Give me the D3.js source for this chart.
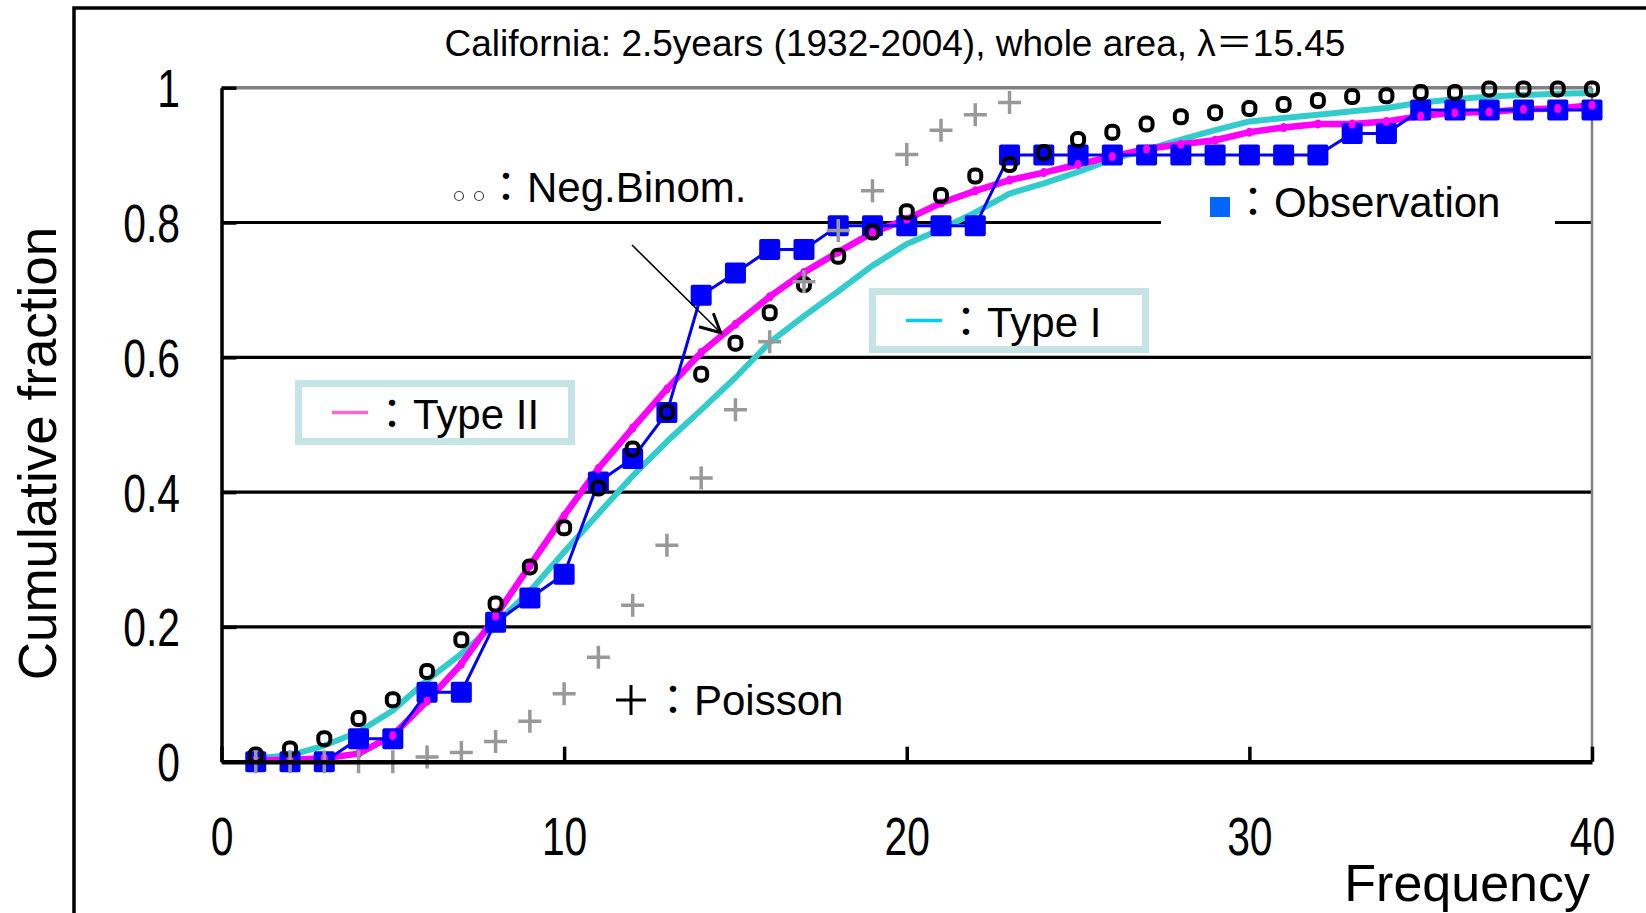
<!DOCTYPE html>
<html>
<head>
<meta charset="utf-8">
<script src="https://cdn.jsdelivr.net/npm/d3@7"></script>
<style>
  html, body { margin: 0; padding: 0; background: #fff; }
  svg { display: block; font-family: "Liberation Sans", Arial, "Noto Sans CJK JP", sans-serif; }
</style>
</head>
<body>
<svg id="chart" width="1646" height="913"></svg>
<script>
// ---- data -------------------------------------------------------------
const frequency = d3.range(1, 41);            // 1 .. 40
const observation = [0, 0, 0, 0.034, 0.034, 0.103, 0.103, 0.207, 0.243, 0.278,
  0.415, 0.45, 0.518, 0.692, 0.725, 0.76, 0.76, 0.795, 0.795, 0.795,
  0.795, 0.795, 0.9, 0.9, 0.9, 0.9, 0.9, 0.9, 0.9, 0.9,
  0.9, 0.9, 0.932, 0.932, 0.967, 0.967, 0.967, 0.967, 0.967, 0.967];
const typeI = [0.005, 0.0095, 0.024, 0.044, 0.076, 0.121, 0.16, 0.205, 0.253, 0.311,
  0.368, 0.424, 0.475, 0.522, 0.57, 0.622, 0.661, 0.698, 0.736, 0.768,
  0.79, 0.815, 0.843, 0.858, 0.875, 0.894, 0.908, 0.923, 0.937, 0.95,
  0.955, 0.96, 0.965, 0.97, 0.978, 0.983, 0.987, 0.989, 0.991, 0.992];
const typeII = [0.002, 0.003, 0.005, 0.012, 0.039, 0.09, 0.145, 0.216, 0.291, 0.365,
  0.435, 0.495, 0.553, 0.607, 0.649, 0.69, 0.726, 0.756, 0.785, 0.805,
  0.829, 0.847, 0.863, 0.874, 0.886, 0.898, 0.909, 0.916, 0.922, 0.934,
  0.941, 0.946, 0.946, 0.95, 0.958, 0.963, 0.964, 0.968, 0.969, 0.974];
const negBinom = [0.01, 0.019, 0.034, 0.064, 0.092, 0.134, 0.181, 0.234, 0.289, 0.347,
  0.406, 0.464, 0.519, 0.575, 0.621, 0.666, 0.708, 0.75, 0.786, 0.816,
  0.84, 0.869, 0.886, 0.904, 0.923, 0.934, 0.946, 0.957, 0.963, 0.969,
  0.975, 0.981, 0.987, 0.988, 0.993, 0.993, 0.998, 0.998, 0.998, 0.998];
const poissonFreq = d3.range(1, 24);          // 1 .. 23
const poisson = [0, 0, 0, 0, 0, 0.007, 0.0135, 0.03, 0.06, 0.101,
  0.155, 0.232, 0.321, 0.421, 0.522, 0.623, 0.712, 0.788, 0.847, 0.901,
  0.937, 0.96, 0.978];

const xTicks = [0, 10, 20, 30, 40];
const yTicks = [0, 0.2, 0.4, 0.6, 0.8, 1];
const yTickLabels = ["0", "0.2", "0.4", "0.6", "0.8", "1"];
const gridValues = [0.2, 0.4, 0.6, 0.8];
const titleText = "California: 2.5years (1932-2004), whole area, λ＝15.45";
const xTitle = "Frequency";
const yTitle = "Cumulative fraction";

// ---- layout -----------------------------------------------------------
const svg = d3.select("#chart");
const x = d3.scaleLinear().domain([0, 40]).range([221.5, 1592]);
const y = d3.scaleLinear().domain([0, 1]).range([761.7, 87.7]);
const narrow = 0.77;   // condensed digits on the axes

svg.append("rect").attr("width", 1646).attr("height", 913).attr("fill", "#fff");

// outer chart frame
svg.append("path").attr("d", "M74,913V8H1646")
  .attr("fill", "none").attr("stroke", "#000").attr("stroke-width", 3.5);

// title
svg.append("text").attr("x", 895).attr("y", 56).attr("text-anchor", "middle")
  .attr("font-size", 37).text(titleText);

// grid lines
svg.append("g").selectAll("line").data(gridValues).join("line")
  .attr("x1", x(0)).attr("x2", x(40))
  .attr("y1", d => y(d)).attr("y2", d => y(d))
  .attr("stroke", "#000").attr("stroke-width", 3.2);

// plot-area border (top and right, grey)
svg.append("line").attr("x1", x(0)).attr("x2", x(40)).attr("y1", y(1)).attr("y2", y(1))
  .attr("stroke", "#808080").attr("stroke-width", 3.5);
svg.append("line").attr("x1", x(40)).attr("x2", x(40)).attr("y1", y(0)).attr("y2", y(1))
  .attr("stroke", "#808080").attr("stroke-width", 2.5);

// ---- legends that sit behind the data --------------------------------
// Observation legend (white background cuts the 0.8 grid line)
const obsLeg = svg.append("g");
obsLeg.append("rect").attr("x", 1161).attr("y", 170).attr("width", 394).attr("height", 72).attr("fill", "#fff");
obsLeg.append("rect").attr("x", 1210).attr("y", 197).attr("width", 20).attr("height", 20).attr("fill", "#0066ff");
obsLeg.append("text").attr("x", 1232).attr("y", 217).attr("font-size", 42).text("：Observation");

// ---- series -----------------------------------------------------------
const line = d3.line().x((d, i) => x(frequency[i])).y(d => y(d));

svg.append("path").datum(typeI).attr("d", line)
  .attr("fill", "none").attr("stroke", "#33cccc").attr("stroke-width", 6).attr("stroke-linejoin", "round");
svg.append("path").datum(typeII).attr("d", line)
  .attr("fill", "none").attr("stroke", "#ff00ff").attr("stroke-width", 6.5).attr("stroke-linejoin", "round");
svg.append("path").datum(observation).attr("d", line)
  .attr("fill", "none").attr("stroke", "#0000ff").attr("stroke-width", 3).attr("stroke-linejoin", "round");

svg.append("g").selectAll("rect").data(observation).join("rect")
  .attr("x", (d, i) => x(frequency[i]) - 10.5).attr("y", d => y(d) - 10.5)
  .attr("width", 21).attr("height", 21).attr("rx", 2).attr("fill", "#0000ff");

svg.append("g").selectAll("ellipse").data(typeII).join("ellipse")
  .attr("cx", (d, i) => x(frequency[i])).attr("cy", d => y(d))
  .attr("rx", 3.5).attr("ry", 4.5).attr("fill", "#ff00ff");

svg.append("g").selectAll("rect").data(negBinom).join("rect")
  .attr("x", (d, i) => x(frequency[i]) - 6).attr("y", d => y(d) - 6.5)
  .attr("width", 12).attr("height", 13).attr("rx", 5)
  .attr("fill", "none").attr("stroke", "#000").attr("stroke-width", 4);

svg.append("g").selectAll("path").data(poisson).join("path")
  .attr("d", (d, i) => {
    const cx = x(poissonFreq[i]), cy = y(d), h = 11.5;
    return `M${cx - h},${cy}H${cx + h}M${cx},${cy - h}V${cy + h}`;
  })
  .attr("stroke", "#999999").attr("stroke-width", 3.5).attr("fill", "none");

// ---- axes -------------------------------------------------------------
const yAxis = svg.append("g").attr("transform", `translate(${x(0)},0)`)
  .call(d3.axisLeft(y).tickValues(yTicks).tickSize(-15).tickSizeOuter(0)
    .tickFormat((d, i) => yTickLabels[i]));
yAxis.select(".domain").attr("stroke", "#000").attr("stroke-width", 3.5);
yAxis.selectAll(".tick line").attr("stroke", "#000").attr("stroke-width", 3.5);
yAxis.selectAll(".tick text")
  .attr("x", -41.5 / narrow).attr("dy", "0.36em")
  .attr("transform", `scale(${narrow},1)`)
  .attr("font-size", 53).attr("font-family", "Liberation Sans, Arial, sans-serif").attr("fill", "#000");

const xAxis = svg.append("g").attr("transform", `translate(0,${y(0)})`)
  .call(d3.axisBottom(x).tickValues(xTicks).tickSize(-15).tickSizeOuter(0)
    .tickFormat(d3.format("d")));
xAxis.select(".domain").attr("stroke", "#000").attr("stroke-width", 4.5);
xAxis.selectAll(".tick line").attr("stroke", "#000").attr("stroke-width", 3.5);
xAxis.selectAll(".tick text")
  .attr("y", 55.5).attr("dy", "0.71em")
  .attr("transform", `scale(${narrow},1)`)
  .attr("font-size", 53).attr("font-family", "Liberation Sans, Arial, sans-serif").attr("fill", "#000");

// axis titles
svg.append("text").attr("x", 1590).attr("y", 901).attr("text-anchor", "end")
  .attr("font-size", 52).text(xTitle);
svg.append("text").attr("transform", "translate(56,453.5) rotate(-90)")
  .attr("text-anchor", "middle").attr("font-size", 53).text(yTitle);

// ---- legends and annotations -----------------------------------------
// Neg. binomial label with arrow
svg.append("g").selectAll("circle").data([459, 479]).join("circle")
  .attr("cx", d => d).attr("cy", 196).attr("r", 4.5)
  .attr("fill", "#fff").attr("stroke", "#444").attr("stroke-width", 1.2);
svg.append("text").attr("x", 485).attr("y", 202).attr("font-size", 42).text("：Neg.Binom.");
svg.append("line").attr("x1", 632).attr("y1", 245).attr("x2", 720).attr("y2", 332)
  .attr("stroke", "#000").attr("stroke-width", 1.6);
svg.append("path").attr("d", "M699,326.7L720.7,332.7L713.3,313.3")
  .attr("fill", "none").attr("stroke", "#000").attr("stroke-width", 3);

// boxed line legends
function boxLegend(bx, by, color, label) {
  const g = svg.append("g");
  g.append("rect").attr("x", bx).attr("y", by).attr("width", 273).attr("height", 58)
    .attr("fill", "#fff").attr("stroke", "#c5e4e6").attr("stroke-width", 7);
  g.append("line").attr("x1", bx + 33.5).attr("x2", bx + 69.5)
    .attr("y1", by + 29).attr("y2", by + 29)
    .attr("stroke", color).attr("stroke-width", 3.5);
  g.append("text").attr("x", bx + 72.5).attr("y", by + 45).attr("font-size", 42).text(label);
}
boxLegend(298.5, 383.5, "#ff66cc", "：Type II");
boxLegend(872.5, 291.5, "#00ccff", "：Type I");

// Poisson label
svg.append("path").attr("d", "M616,700H646M631,685V715")
  .attr("stroke", "#000").attr("stroke-width", 3).attr("fill", "none");
svg.append("text").attr("x", 652).attr("y", 715).attr("font-size", 42).text("：Poisson");
</script>
</body>
</html>
